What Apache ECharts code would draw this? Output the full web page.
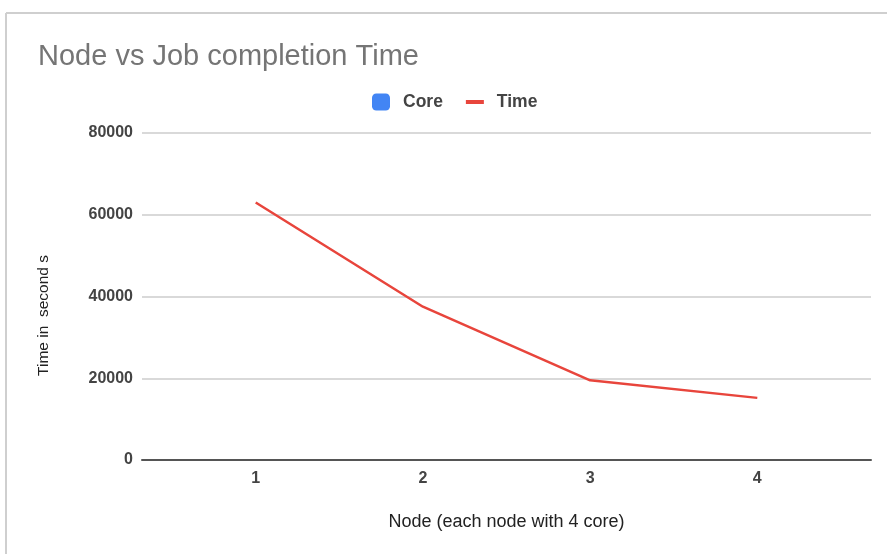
<!DOCTYPE html>
<html>
<head>
<meta charset="utf-8">
<style>
  html, body { margin: 0; padding: 0; background: #fff; }
  #chart { width: 887px; height: 554px; }
</style>
<script src="https://cdn.jsdelivr.net/npm/echarts@6/dist/echarts.min.js"></script>
</head>
<body>
<div id="chart"></div>
<script>
// Node count vs. job completion time
const nodes = [1, 2, 3, 4];
const timeSeconds = [63000, 37500, 19500, 15200];
const coreSeries = [];            // listed in the legend only
const yTicks = [0, 20000, 40000, 60000, 80000];

const chart = echarts.init(document.getElementById('chart'), null, { renderer: 'canvas' });
const font = '"Liberation Sans", Arial, sans-serif';

chart.setOption({
  animation: false,
  backgroundColor: '#ffffff',
  textStyle: { fontFamily: font },
  title: {
    text: 'Node vs Job completion Time',
    left: 33, top: 37,
    textStyle: { fontFamily: font, fontSize: 29, fontWeight: 'normal', color: '#757575' }
  },
  legend: {
    top: 88, left: 367,
    itemGap: 23, itemWidth: 18, itemHeight: 17,
    textStyle: { fontFamily: font, fontSize: 17.5, fontWeight: 'bold', color: '#444', padding: [0, 0, 0, 8] },
    data: [
      { name: 'Core', icon: 'roundRect', itemStyle: { color: '#4285f4' } },
      { name: 'Time', icon: 'path://M0,0 L18,0 L18,4 L0,4 Z', itemStyle: { color: '#e8453c' } }
    ]
  },
  grid: { left: 142, right: 16, top: 133, bottom: 94, containLabel: false },
  xAxis: {
    type: 'value',
    min: 0.32, max: 4.68,
    name: 'Node (each node with 4 core)',
    nameLocation: 'middle', nameGap: 53,
    nameTextStyle: { fontFamily: font, fontSize: 18, color: '#222' },
    axisLine: { show: true, onZero: false, lineStyle: { color: '#555', width: 2 } },
    axisTick: { show: false },
    splitLine: { show: false },
    axisLabel: {
      customValues: nodes,
      margin: 11,
      fontFamily: font, fontSize: 16, fontWeight: 'bold', color: '#444',
      formatter: v => String(v)
    }
  },
  yAxis: {
    type: 'value',
    min: yTicks[0], max: yTicks[yTicks.length - 1], interval: 20000,
    name: 'Time in  second s',
    nameLocation: 'middle', nameGap: 90, nameRotate: 90,
    nameTextStyle: { fontFamily: font, fontSize: 15.5, color: '#222', padding: [0, 38, 0, 0] },
    axisLine: { show: false },
    axisTick: { show: false },
    splitLine: { lineStyle: { color: '#d9d9d9', width: 2 } },
    axisLabel: {
      margin: 9, fontFamily: font, fontSize: 16, fontWeight: 'bold', color: '#444',
      formatter: v => String(v)
    }
  },
  graphic: [
    { type: 'line', shape: { x1: 6, y1: 13, x2: 887, y2: 13 }, style: { stroke: '#cfcfcf', lineWidth: 2 } },
    { type: 'line', shape: { x1: 6, y1: 13, x2: 6, y2: 554 }, style: { stroke: '#cfcfcf', lineWidth: 2 } }
  ],
  series: [
    { name: 'Core', type: 'bar', data: coreSeries, itemStyle: { color: '#4285f4' } },
    {
      name: 'Time', type: 'line',
      data: nodes.map((n, i) => [n, timeSeconds[i]]),
      symbol: 'none',
      lineStyle: { color: '#e8453c', width: 2.5 },
      itemStyle: { color: '#e8453c' }
    }
  ]
});
</script>
</body>
</html>
